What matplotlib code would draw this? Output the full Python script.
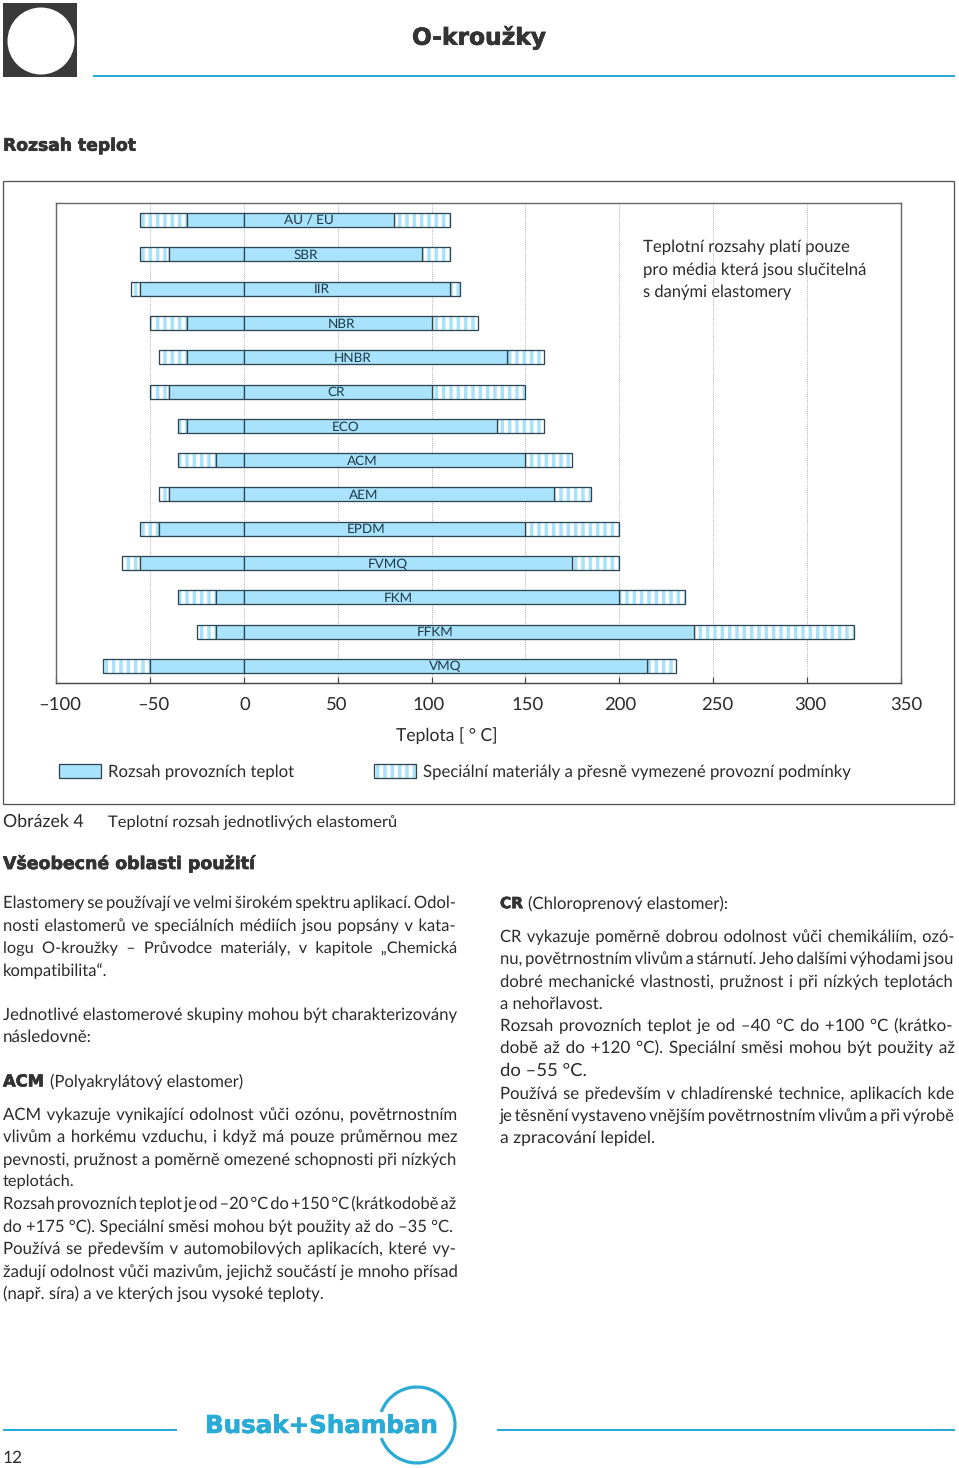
import matplotlib
matplotlib.use("Agg")
import matplotlib.pyplot as plt
from matplotlib.legend_handler import HandlerTuple
from matplotlib.patches import Patch, Rectangle, Ellipse, Arc
from matplotlib.transforms import Affine2D
import matplotlib.patheffects as pe

# ---------- data ----------
elastomers = ["AU / EU", "SBR", "IIR", "NBR", "HNBR", "CR", "ECO", "ACM", "AEM", "EPDM", "FVMQ", "FKM", "FFKM", "VMQ"]
special_low = [-55, -55, -60, -50, -45, -50, -35, -35, -45, -55, -65, -35, -25, -75]
operating_low = [-30, -40, -55, -30, -30, -40, -30, -15, -40, -45, -55, -15, -15, -50]
operating_high = [80, 95, 110, 100, 140, 100, 135, 150, 165, 150, 175, 200, 240, 215]
special_high = [110, 110, 115, 125, 160, 150, 160, 175, 185, 200, 200, 235, 325, 230]
tick_values = [-100, -50, 0, 50, 100, 150, 200, 250, 300, 350]
tick_labels = ["–100", "–50", "0", "50", "100", "150", "200", "250", "300", "350"]

# ---------- layout ----------
W, H, DPI = 960, 1468, 88
FAM = "Lato"
FILL = "#A8E2FB"
EDGE = "#2E4653"
CYAN = "#29ABD6"
INK = "#2b2b2b"
HEAD = "#333333"
label_px = [309, 306, 322, 342, 353, 336, 346, 362, 364, 366, 388, 398, 435, 445]
tick_shift_px = [4, 4, 1, -1, -3, 2, 1, 4, 3, 5]
plt.rcParams["font.family"] = [FAM, "DejaVu Sans"]
plt.rcParams["hatch.linewidth"] = 2.9
plt.rcParams["text.hinting"] = "no_hinting"

fig = plt.figure(figsize=(W / DPI, H / DPI), dpi=DPI)
page = fig.add_axes([0, 0, 1, 1])
page.set_xlim(0, W)
page.set_ylim(H, 0)
page.axis("off")


def px(p):
    return p * 72 / DPI


renderer = fig.canvas.get_renderer()
SPACES = [" ", "\u2009", "\u200a", "\u2006", "\u2005", "\u2004", "\u2002"]


def put(text, x0, x1, y, size=16.6, weight="normal", family=None, color=INK, heavy=False, justify=False):
    """One line of text, set to the horizontal extent it has in the reference."""
    t = page.text(x0, y, text, fontsize=px(size), fontweight=weight, va="center", ha="left", color=color,
                  family=family or [FAM, "DejaVu Sans"])
    best, best_scale = text, None
    for sp in (SPACES if justify else SPACES[:1]):
        cand = text.replace(" ", sp)
        t.set_text(cand)
        scale = (x1 - x0) / t.get_window_extent(renderer).width
        if best_scale is None or abs(scale - 1) < abs(best_scale - 1):
            best, best_scale = cand, scale
    t.set_text(best)
    t.set_fontsize(px(size) * best_scale)
    if heavy:
        t.set_path_effects([pe.withStroke(linewidth=px(0.7), foreground=color)])
    return t


def rule(x0, x1, y):
    page.plot([x0, x1], [y, y], color=CYAN, lw=px(2), solid_capstyle="butt")


# page furniture
page.add_patch(Rectangle((3, 3), 74, 74, fc="#3a3a3a", ec="none"))
page.add_patch(Ellipse((41, 41), 67, 67, fc="white", ec="none"))
rule(93, 955, 76)
rule(3, 177, 1430)
rule(497, 955, 1430)
page.add_patch(Arc((417, 1425), 76, 76, theta1=-160, theta2=160, color=CYAN, lw=px(3.2)))
page.add_patch(Rectangle((3, 181), 951, 623, fc="none", ec="#555555", lw=px(1.3)))

BOLD = "DejaVu Sans"
put("O-kroužky", 412, 546, 38, 27, "bold", BOLD, HEAD, True)
put("Rozsah teplot", 3, 136, 146, 20, "bold", BOLD, HEAD, True)
put("Všeobecné oblasti použití", 3, 255, 864, 20, "bold", BOLD, HEAD, True)
put("Busak+Shamban", 205, 438, 1426, 24, "bold", BOLD, CYAN, True)
put("12", 3, 23, 1458, 18)

put("Obrázek 4", 3, 84, 822)
put("Teplotní rozsah jednotlivých elastomerů", 108, 397, 822)

# chart
ax = fig.add_axes([56 / W, 1 - 683 / H, 845 / W, 480 / H])
ax.set_xlim(-100, 350)
ax.set_ylim(13.5, -0.5)
ax.patch.set_alpha(0)
ax.grid(axis="x", color="#9a9a9a", lw=0.7, ls=(0, (1, 1.5)), zorder=0)
ax.set_axisbelow(True)
ax.set_yticks([])
ax.set_xticks(tick_values, tick_labels)
ax.tick_params(axis="x", direction="in", length=px(6), width=px(1.2), color="#444444",
               labelsize=px(18.5), pad=px(14), labelcolor=INK)
for lab, dx in zip(ax.get_xticklabels(), tick_shift_px):
    lab.set_transform(lab.get_transform() + Affine2D().translate(dx, 0))
for s in ax.spines.values():
    s.set_color("#666666")
    s.set_linewidth(px(1.4))
ax.spines["bottom"].set_color("#444444")

HEIGHT = 0.41
for i, name in enumerate(elastomers):
    for a, b in [(special_low[i], operating_low[i]), (operating_high[i], special_high[i])]:
        ax.barh(i, b - a, left=a, height=HEIGHT, fc="white", ec=FILL, hatch="||", lw=0, zorder=2)
        ax.barh(i, b - a, left=a, height=HEIGHT, fc="none", ec=EDGE, lw=px(1.3), zorder=3)
    for a, b in [(operating_low[i], 0), (0, operating_high[i])]:
        ax.barh(i, b - a, left=a, height=HEIGHT, fc=FILL, ec=EDGE, lw=px(1.3), zorder=3)
    ax.text(ax.transData.inverted().transform((label_px[i] * 1.0, 0))[0], i + 0.03, name, ha="center", va="center",
            fontsize=px(13.5), color="#1f3a48", zorder=4)

ax.set_xlabel("Teplota [ ° C]", fontsize=px(17.5), color=INK)
ax.xaxis.set_label_coords((447 - 56) / 845, -(736 - 683) / 480, transform=ax.transAxes)
ax.xaxis.label.set_verticalalignment("center")

FS = 16.8
handles = [Patch(fc=FILL, ec=EDGE, lw=px(1.3)),
           (Patch(fc="white", ec=FILL, hatch="||", lw=0), Patch(fc="none", ec=EDGE, lw=px(1.3)))]
leg = ax.legend(handles, ["Rozsah provozních teplot", "Speciální materiály a přesně vymezené provozní podmínky"],
                loc="center left", bbox_to_anchor=((59 - 56) / 845, -(772 - 683) / 480), ncol=2, frameon=False,
                fontsize=px(FS), handlelength=42 / FS, handleheight=15 / FS, handletextpad=7 / FS,
                columnspacing=80 / FS, borderpad=0, borderaxespad=0, labelcolor=INK,
                handler_map={tuple: HandlerTuple(ndivide=1, pad=0)})

put("Teplotní rozsahy platí pouze", 643, 851, 247)
put("pro média která jsou slučitelná", 643, 866, 270)
put("s danými elastomery", 643, 792, 292)

# body text
left_lines = [
    ("Elastomery se používají ve velmi širokém spektru aplikací. Odol-", 457, 903),
    ("nosti elastomerů ve speciálních médiích jsou popsány v kata-", 457, 926),
    ("logu O-kroužky – Průvodce materiály, v kapitole „Chemická", 457, 948),
    ("kompatibilita“.", 108, 970),
    ("Jednotlivé elastomerové skupiny mohou být charakterizovány", 457, 1015),
    ("následovně:", 92, 1037),
    ("ACM vykazuje vynikající odolnost vůči ozónu, povětrnostním", 457, 1115),
    ("vlivům a horkému vzduchu, i když má pouze průměrnou mez", 457, 1137),
    ("pevnosti, pružnost a poměrně omezené schopnosti při nízkých", 457, 1160),
    ("teplotách.", 75, 1182),
    ("Rozsah provozních teplot je od –20 °C do +150 °C (krátkodobě až", 457, 1204),
    ("do +175 °C). Speciální směsi mohou být použity až do –35 °C.", 453, 1227),
    ("Používá se především v automobilových aplikacích, které vy-", 457, 1249),
    ("žadují odolnost vůči mazivům, jejichž součástí je mnoho přísad", 457, 1272),
    ("(např. síra) a ve kterých jsou vysoké teploty.", 324, 1294),
]
right_lines = [
    ("CR vykazuje poměrně dobrou odolnost vůči chemikáliím, ozó-", 955, 937),
    ("nu, povětrnostním vlivům a stárnutí. Jeho dalšími výhodami jsou", 955, 959),
    ("dobré mechanické vlastnosti, pružnost i při nízkých teplotách", 955, 982),
    ("a nehořlavost.", 603, 1004),
    ("Rozsah provozních teplot je od –40 °C do +100 °C (krátko-", 955, 1026),
    ("době až do +120 °C). Speciální směsi mohou být použity až", 955, 1048),
    ("do –55 °C.", 587, 1071),
    ("Používá se především v chladírenské technice, aplikacích kde", 955, 1094),
    ("je těsnění vystaveno vnějším povětrnostním vlivům a při výrobě", 955, 1116),
    ("a zpracování lepidel.", 655, 1138),
]
for text, x1, y in left_lines:
    put(text, 3, x1, y, justify=x1 > 400)
for text, x1, y in right_lines:
    put(text, 500, x1, y, justify=x1 > 900)
put("ACM", 3, 44, 1082, 16, "bold", BOLD, HEAD, True)
put("(Polyakrylátový elastomer)", 50, 244, 1082)
put("CR", 500, 523, 904, 16, "bold", BOLD, HEAD, True)
put("(Chloroprenový elastomer):", 528, 729, 904)

fig.savefig("out.png", dpi=DPI)
